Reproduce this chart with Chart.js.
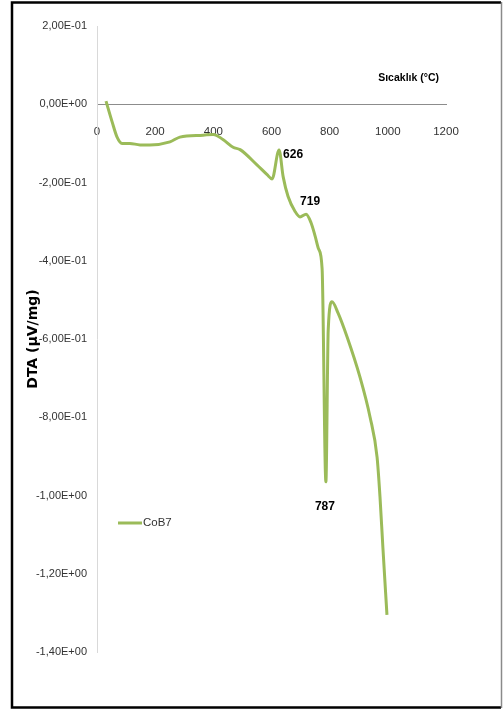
<!DOCTYPE html>
<html>
<head>
<meta charset="utf-8">
<script src="https://cdn.jsdelivr.net/npm/chart.js@4.4.1/dist/chart.umd.min.js"></script>
<style>
  html, body { margin: 0; padding: 0; background: #ffffff; }
  #wrap { width: 503px; height: 711px; position: relative; }
</style>
</head>
<body>
<div id="wrap"><canvas id="dta" width="503" height="711"></canvas></div>
<script>
// DTA curve of sample CoB7: temperature (°C) and signal (µV/mg)
const temperatures = [31, 52, 69, 86, 113, 148, 182, 251, 285, 365, 400, 433, 468, 492, 550, 585, 602, 626, 640, 657, 681, 698, 719, 736, 750, 762, 774, 787, 795, 808, 829, 860, 904, 939, 963, 973, 983, 997];
const dtaValues = [0.008, -0.045, -0.084, -0.100, -0.100, -0.104, -0.104, -0.096, -0.084, -0.079, -0.077, -0.090, -0.110, -0.116, -0.155, -0.180, -0.191, -0.117, -0.185, -0.236, -0.274, -0.288, -0.281, -0.303, -0.337, -0.370, -0.420, -0.965, -0.577, -0.505, -0.534, -0.595, -0.697, -0.800, -0.902, -1.003, -1.133, -1.305];

// Annotated peak temperatures
const peakTemps = [626, 719, 787];

// Axis ticks
const xTicks = [0, 200, 400, 600, 800, 1000, 1200];
const yTicks = [0.2, 0, -0.2, -0.4, -0.6, -0.8, -1.0, -1.2, -1.4];

const seriesName = 'CoB7';
const xTitle = 'Sıcaklık (°C)';
const yTitle = 'DTA (µV/mg)';

const lineColor = '#9bbb59';
const sans = '"Liberation Sans", Arial, sans-serif';

// "2,00E-01" style scientific labels
function sciLabel(v) {
  const s = Number(v).toExponential(2);
  const [m, e] = s.split('e');
  const exp = parseInt(e, 10);
  const sign = exp < 0 ? '-' : '+';
  const digits = String(Math.abs(exp)).padStart(2, '0');
  return m.replace('.', ',') + 'E' + sign + digits;
}

const points = temperatures.map((t, i) => ({ x: t, y: dtaValues[i] }));

// Outer frame
const framePlugin = {
  id: 'frame',
  afterDraw(chart) {
    const ctx = chart.ctx;
    ctx.save();
    ctx.strokeStyle = '#000000';
    ctx.lineWidth = 2.5;
    ctx.beginPath();
    ctx.moveTo(501, 2.5);
    ctx.lineTo(12, 2.5);
    ctx.lineTo(12, 707.5);
    ctx.lineTo(501, 707.5);
    ctx.stroke();
    ctx.strokeStyle = '#8a8a8a';
    ctx.lineWidth = 1.5;
    ctx.beginPath();
    ctx.moveTo(501.5, 2);
    ctx.lineTo(501.5, 708);
    ctx.stroke();
    ctx.restore();
  }
};

// Axis title above the temperature axis, peak labels and the inline legend
const annotatePlugin = {
  id: 'annotate',
  afterDatasetsDraw(chart) {
    const ctx = chart.ctx;
    const xs = chart.scales.x, ys = chart.scales.y;
    ctx.save();

    // temperature axis title
    ctx.font = 'bold 10.5px ' + sans;
    ctx.fillStyle = '#000000';
    ctx.textAlign = 'right';
    ctx.textBaseline = 'middle';
    ctx.fillText(xTitle, xs.right - 7, ys.getPixelForValue(0) - 26);

    // peak labels
    const offsets = { 626: [14, 5], 719: [4, -13], 787: [-1, 25] };
    ctx.font = 'bold 12px ' + sans;
    ctx.textAlign = 'center';
    peakTemps.forEach(t => {
      const i = temperatures.indexOf(t);
      if (i < 0) return;
      const px = xs.getPixelForValue(t);
      const py = ys.getPixelForValue(dtaValues[i]);
      const o = offsets[t] || [0, 0];
      ctx.fillText(String(t), px + o[0], py + o[1]);
    });

    // legend
    const ds = chart.data.datasets[0];
    ctx.strokeStyle = ds.borderColor;
    ctx.lineWidth = 3;
    ctx.beginPath();
    ctx.moveTo(118, 523);
    ctx.lineTo(142, 523);
    ctx.stroke();
    ctx.font = '11.5px ' + sans;
    ctx.fillStyle = '#333333';
    ctx.textAlign = 'left';
    ctx.fillText(ds.label, 143, 523);
    ctx.restore();
  }
};

new Chart(document.getElementById('dta'), {
  type: 'line',
  data: {
    datasets: [{
      label: seriesName,
      data: points,
      borderColor: lineColor,
      backgroundColor: lineColor,
      borderWidth: 3,
      pointRadius: 0,
      cubicInterpolationMode: 'monotone',
      fill: false
    }]
  },
  options: {
    responsive: false,
    devicePixelRatio: 1,
    animation: false,
    layout: { padding: { left: 0, top: 26, right: 57, bottom: 59 } },
    plugins: {
      legend: { display: false },
      tooltip: { enabled: false }
    },
    scales: {
      x: {
        type: 'linear',
        position: { y: 0 },
        min: 0,
        max: 1200,
        afterBuildTicks: s => { s.ticks = xTicks.map(v => ({ value: v })); },
        afterFit: s => { s.height = 0; },
        grid: { display: false, drawTicks: false },
        border: { display: true, color: '#8c8c8c', width: 1 },
        ticks: {
          padding: 21,
          maxRotation: 0,
          autoSkip: false,
          color: '#333333',
          font: { family: sans, size: 11.5 },
          callback: v => String(v)
        }
      },
      y: {
        type: 'linear',
        position: 'left',
        min: -1.4,
        max: 0.2,
        afterBuildTicks: s => { s.ticks = yTicks.map(v => ({ value: v })); },
        afterFit: s => { s.width = 97; },
        grid: { display: false, drawTicks: false },
        border: { display: true, color: '#d9d9d9', width: 1 },
        ticks: {
          padding: 10,
          autoSkip: false,
          color: '#333333',
          font: { family: sans, size: 11 },
          callback: v => sciLabel(v)
        },
        title: {
          display: true,
          text: yTitle,
          color: '#000000',
          font: { family: '"DejaVu Sans", sans-serif', size: 14, weight: 'bold' },
          padding: { top: 25, bottom: 0 }
        }
      }
    }
  },
  plugins: [framePlugin, annotatePlugin]
});
</script>
</body>
</html>
